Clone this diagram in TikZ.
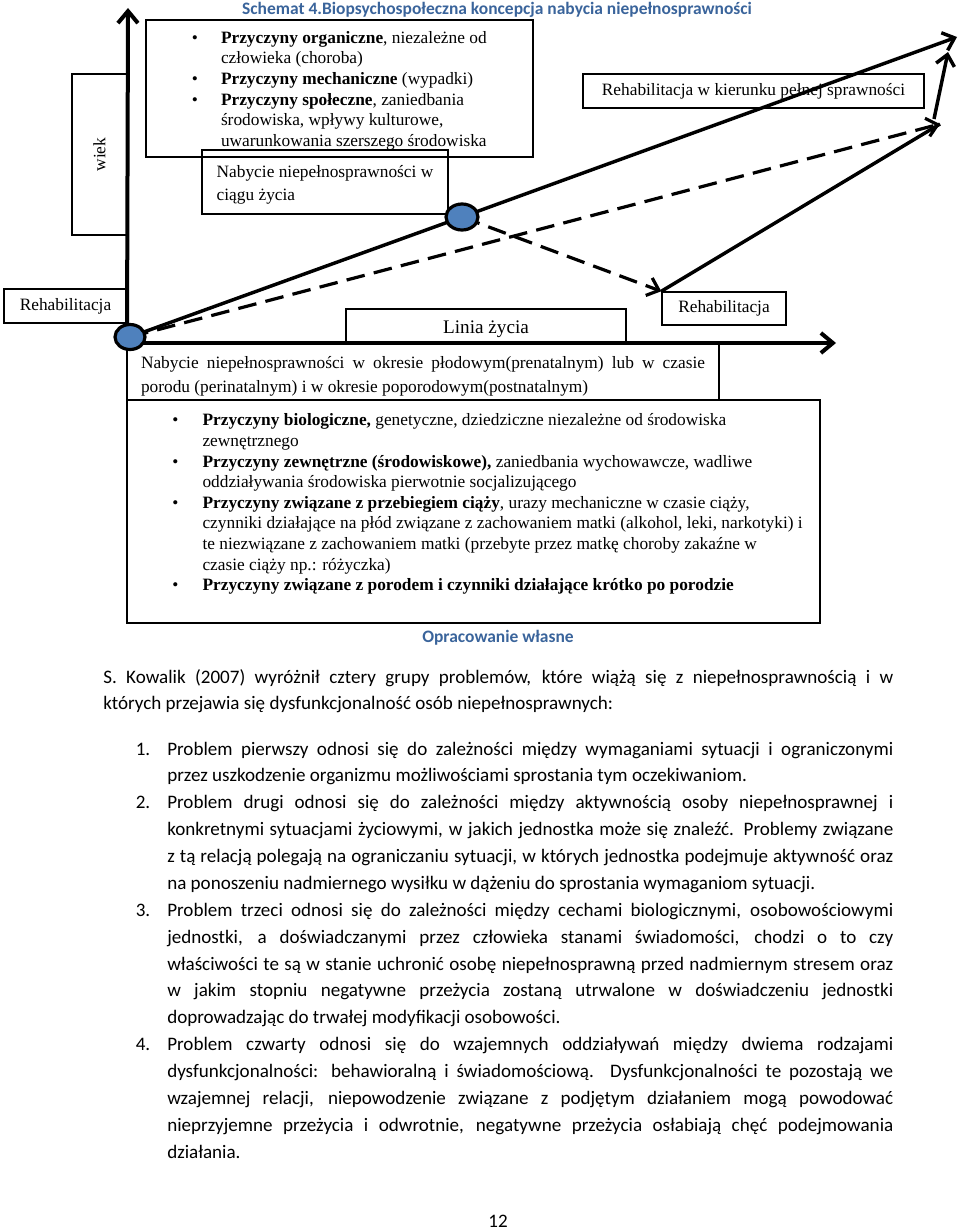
\documentclass[tikz,border=0pt]{standalone}
\usepackage{fontspec}
\setmainfont{Liberation Serif}
\newfontfamily\calibri{Carlito}
\usepackage{enumitem}
\usetikzlibrary{arrows.meta,positioning,shapes.geometric}
\pgfdeclarelayer{back}
\pgfsetlayers{back,main}
\definecolor{dotblue}{RGB}{79,129,189}
\definecolor{capblue}{RGB}{58,100,155}
% justified line of a paragraph
\newcommand\jl[1]{\makebox[\linewidth][s]{\strut#1}\newline}
\tikzset{
  diag/.style={font=\fontsize{13}{15.45}\selectfont, inner sep=0pt},
  box/.style={draw, line width=1.1pt, inner sep=0pt},
  axis/.style={line width=3pt, -{Straight Barb[length=9pt,width=15pt]}},
  solidline/.style={line width=2.6pt},
  dashline/.style={line width=2.4pt, dash pattern=on 14pt off 7pt},
  tip/.style={-{Straight Barb[length=8pt,width=14pt]}},
  dot/.style={ellipse, draw, line width=2.4pt, fill=dotblue, inner sep=0pt},
  capt/.style={font=\calibri\bfseries\fontsize{13.1}{15.5}\selectfont, text=capblue, inner sep=0pt},
  body/.style={font=\calibri\fontsize{14.3}{20.15}\selectfont, inner sep=0pt}
}
\begin{document}
\begin{tikzpicture}[x=0.75pt, y=-0.75pt]
\useasboundingbox (0,0) rectangle (960,1231);
\node[capt] (title) at (497,10) {Schemat 4.Biopsychospołeczna koncepcja nabycia niepełnosprawności};

%axes and end points
\coordinate (org) at (127,343);
\coordinate (ytip) at (128,8);
\coordinate (xtip) at (836,343);
\coordinate (full) at (957,37);
\coordinate (meet) at (940,124);
\coordinate (rise) at (934,119);
\coordinate (fullup) at (948,52);

%boxes
\node[box, diag, minimum width=290.25pt, minimum height=102.75pt] (organic) at (339.5,88.5) {\begin{minipage}{290.25pt}\raggedright
\begin{itemize}[leftmargin=56.25pt, labelsep=17.25pt, itemsep=0pt, parsep=0pt, topsep=0pt, partopsep=0pt]
\item \rule{0pt}{14pt}\textbf{Przyczyny organiczne}, niezależne od\\ człowieka (choroba)
\item \textbf{Przyczyny mechaniczne} (wypadki)
\item \textbf{Przyczyny społeczne}, zaniedbania\\ środowiska, wpływy kulturowe,\\ uwarunkowania szerszego środowiska\strut
\end{itemize}\end{minipage}};
\node[box, diag, rotate=90, minimum width=120.75pt, minimum height=41.25pt] (agebox) at (99.5,154.5) {wiek};
\node[box, diag, font=\fontsize{13}{17.25}\selectfont, align=left, minimum width=184.5pt, minimum height=48pt] (lateacq) at (325,182) {\rule{0pt}{14pt}Nabycie niepełnosprawności w\\ ciągu życia};
\node[box, diag, minimum width=255.75pt, minimum height=25.5pt] (rehabfull) at (753.5,91) {Rehabilitacja w kierunku pełnej sprawności};
\node[box, diag, minimum width=92.25pt, minimum height=25.5pt] (rehabL) at (65.5,306) {Rehabilitacja};
\node[box, diag, minimum width=93pt, minimum height=24.75pt] (rehabR) at (724,308.5) {Rehabilitacja};
\node[box, font=\fontsize{14.4}{17}\selectfont, minimum width=210pt, minimum height=25.5pt] (lifebox) at (486,326) {\rule{0pt}{14pt}Linia życia};
\node[box, diag, font=\fontsize{13}{18}\selectfont, align=left, minimum width=444pt, minimum height=42.75pt] (prenatal) at (423,371.5) {\rule{0pt}{17pt}\makebox[423pt][s]{Nabycie niepełnosprawności w okresie płodowym(prenatalnym) lub w czasie}\\ porodu (perinatalnym) i w okresie poporodowym(postnatalnym)};
\node[box, minimum width=519.75pt, minimum height=167.25pt] (prenatcauses) at (473.5,511.5) {};
\node[diag, below right=9pt and 0pt of prenatcauses.north west] (prenattxt) {\begin{minipage}{540pt}\raggedright
\begin{itemize}[leftmargin=57pt, labelsep=18pt, itemsep=0pt, parsep=0pt, topsep=0pt, partopsep=0pt]
\item \strut\textbf{Przyczyny biologiczne,} genetyczne, dziedziczne niezależne od środowiska\\ zewnętrznego
\item \textbf{Przyczyny zewnętrzne (środowiskowe),} zaniedbania wychowawcze, wadliwe\\ oddziaływania środowiska pierwotnie socjalizującego
\item \textbf{Przyczyny związane z przebiegiem ciąży}, urazy mechaniczne w czasie ciąży,\\ czynniki działające na płód związane z zachowaniem matki (alkohol, leki, narkotyki) i\\ te niezwiązane z zachowaniem matki (przebyte przez matkę choroby zakaźne w\\ czasie ciąży np.: różyczka)
\item \textbf{Przyczyny związane z porodem i czynniki działające krótko po porodzie}
\end{itemize}\end{minipage}};

%points on the life line
\node[dot, minimum width=22.5pt, minimum height=18.75pt] (early) at (130,337) {};
\node[dot, minimum width=24pt, minimum height=19.5pt] (late) at (462,217) {};

\begin{pgfonlayer}{back}
\draw[axis] (org) -- (ytip);
\draw[axis] (org) -- (xtip);
\draw[solidline, tip] (early.center) -- (late.center) -- (full);
\draw[dashline, tip] (early.center) -- (meet);
\draw[dashline, tip] (late.center) -- (rehabR.north west);
\draw[solidline] (rehabR.north west) -- (meet);
\draw[solidline, tip] (rise) -- (fullup);
\end{pgfonlayer}

\node[capt] (source) at (498,638) {Opracowanie własne};

%text below the scheme
\node[body, anchor=north west] (kowalik) at (103,664) {\begin{minipage}{592.5pt}
\jl{S. Kowalik (2007) wyróżnił cztery grupy problemów, które wiążą się z niepełnosprawnością i w}
których przejawia się dysfunkcjonalność osób niepełnosprawnych:\strut
\end{minipage}};
\node[body, anchor=north west] (problems) at (103,736) {\begin{minipage}{592.5pt}
\begin{enumerate}[label=\arabic*., leftmargin=48pt, labelsep=12.75pt, itemsep=0pt, parsep=0pt, topsep=0pt, partopsep=0pt]
\item \jl{Problem pierwszy odnosi się do zależności między wymaganiami sytuacji i ograniczonymi}
przez uszkodzenie organizmu możliwościami sprostania tym oczekiwaniom.
\item \jl{Problem drugi odnosi się do zależności między aktywnością osoby niepełnosprawnej i}
\jl{konkretnymi sytuacjami życiowymi, w jakich jednostka może się znaleźć. Problemy związane}
\jl{z tą relacją polegają na ograniczaniu sytuacji, w których jednostka podejmuje aktywność oraz}
na ponoszeniu nadmiernego wysiłku w dążeniu do sprostania wymaganiom sytuacji.
\item \jl{Problem trzeci odnosi się do zależności między cechami biologicznymi, osobowościowymi}
\jl{jednostki, a doświadczanymi przez człowieka stanami świadomości, chodzi o to czy}
\jl{właściwości te są w stanie uchronić osobę niepełnosprawną przed nadmiernym stresem oraz}
\jl{w jakim stopniu negatywne przeżycia zostaną utrwalone w doświadczeniu jednostki}
doprowadzając do trwałej modyfikacji osobowości.
\item \jl{Problem czwarty odnosi się do wzajemnych oddziaływań między dwiema rodzajami}
\jl{dysfunkcjonalności: behawioralną i świadomościową. Dysfunkcjonalności te pozostają we}
\jl{wzajemnej relacji, niepowodzenie związane z podjętym działaniem mogą powodować}
\jl{nieprzyjemne przeżycia i odwrotnie, negatywne przeżycia osłabiają chęć podejmowania}
działania.\strut
\end{enumerate}\end{minipage}};
\node[body] (pageno) at (498,1221) {12};
\end{tikzpicture}
\end{document}
